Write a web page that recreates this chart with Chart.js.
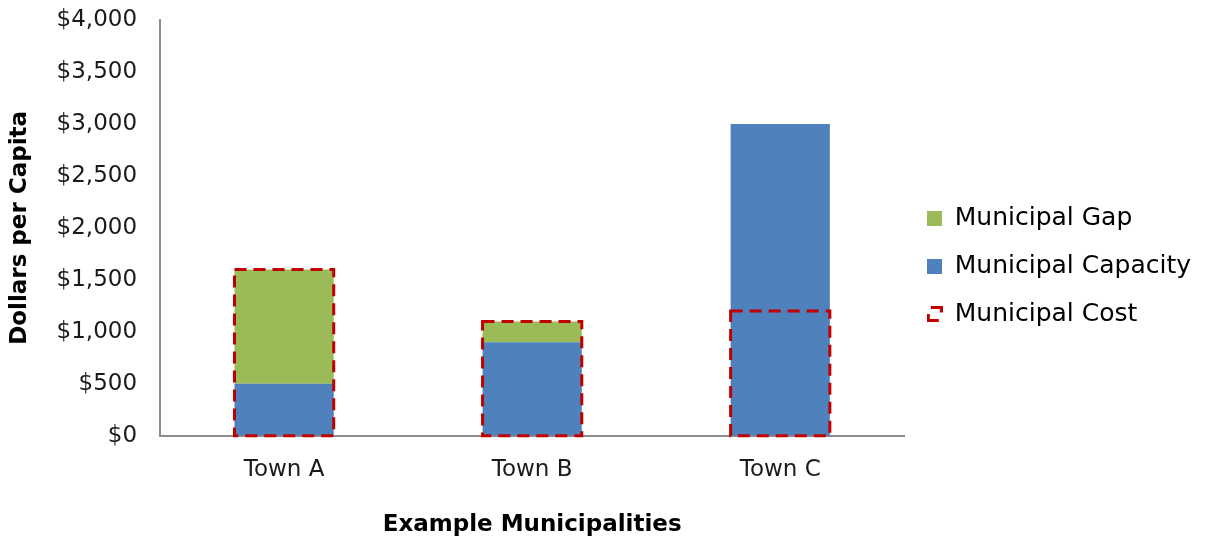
<!DOCTYPE html>
<html>
<head>
<meta charset="utf-8">
<script src="https://cdn.jsdelivr.net/npm/chart.js@4"></script>
<style>
  html, body { margin: 0; padding: 0; background: #fff; }
  #wrap { width: 1217px; height: 539px; }
</style>
</head>
<body>
<div id="wrap"><canvas id="c" width="1217" height="539"></canvas></div>
<script>
const categories = ['Town A', 'Town B', 'Town C'];
const capacityValues = [500, 900, 3000];
const gapValues = [1100, 200, 0];
const costValues = [1600, 1100, 1200];
const yMin = 0, yMax = 4000, yStep = 500;
const seriesNames = ['Municipal Gap', 'Municipal Capacity', 'Municipal Cost'];

const GREEN = '#9BBB59', BLUE = '#4F81BD', RED = '#C00000';
const FONT = "'DejaVu Sans', sans-serif";

function makeSquare(color) {
  const c = document.createElement('canvas');
  c.width = 15; c.height = 15;
  const g = c.getContext('2d');
  g.fillStyle = color; g.fillRect(0, 0, 15, 15);
  return c;
}
function makeCostIcon() {
  const c = document.createElement('canvas');
  c.width = 16; c.height = 16;
  const g = c.getContext('2d');
  g.strokeStyle = RED; g.lineWidth = 3; g.lineCap = 'butt';
  g.beginPath();
  g.moveTo(4, 1.5); g.lineTo(14.5, 1.5); g.lineTo(14.5, 6.5);
  g.moveTo(1.5, 8); g.lineTo(1.5, 14.5); g.lineTo(12, 14.5);
  g.stroke();
  return c;
}
const icons = [makeSquare(GREEN), makeSquare(BLUE), makeCostIcon()];

const dashedCost = {
  id: 'dashedCost',
  afterDatasetsDraw(chart) {
    const idx = chart.data.datasets.findIndex(d => d.label === seriesNames[2]);
    const meta = chart.getDatasetMeta(idx);
    const ctx = chart.ctx;
    ctx.save();
    ctx.strokeStyle = RED;
    ctx.lineWidth = 3;
    ctx.setLineDash([12, 7]);
    meta.data.forEach(el => {
      const p = el.getProps(['x', 'y', 'base', 'width'], true);
      ctx.strokeRect(p.x - p.width / 2, p.y, p.width, p.base - p.y);
    });
    ctx.restore();
  }
};

new Chart(document.getElementById('c'), {
  type: 'bar',
  data: {
    labels: categories,
    datasets: [
      { label: seriesNames[1], data: capacityValues, backgroundColor: BLUE, stack: 'main' },
      { label: seriesNames[0], data: gapValues, backgroundColor: GREEN, stack: 'main' },
      { label: seriesNames[2], data: costValues, backgroundColor: 'rgba(0,0,0,0)', borderWidth: 0, stack: 'cost' }
    ]
  },
  options: {
    responsive: false,
    animation: false,
    devicePixelRatio: 1,
    datasets: { bar: { grouped: false, barPercentage: 0.4, categoryPercentage: 1 } },
    layout: { padding: { left: 0, top: -7, right: 16, bottom: 0 } },
    plugins: {
      tooltip: { enabled: false },
      legend: {
        position: 'right',
        align: 'center',
        labels: {
          color: '#1a1a1a',
          font: { family: FONT, size: 25 },
          usePointStyle: true,
          boxWidth: 15,
          boxHeight: 15,
          padding: 23,
          generateLabels(chart) {
            return seriesNames.map((name, i) => ({
              text: name,
              pointStyle: icons[i],
              fillStyle: 'transparent',
              strokeStyle: 'transparent',
              lineWidth: 0,
              hidden: false,
              datasetIndex: chart.data.datasets.findIndex(d => d.label === name)
            }));
          }
        }
      }
    },
    scales: {
      x: {
        stacked: true,
        grid: { display: false, drawTicks: false },
        border: { color: '#8c8c8c', width: 2 },
        ticks: { color: '#1a1a1a', font: { family: FONT, size: 23 }, padding: 20 },
        title: { display: true, text: 'Example Municipalities', color: '#000', font: { family: FONT, size: 23, weight: 'bold' }, padding: { top: 8, bottom: 0 } }
      },
      y: {
        stacked: true,
        min: yMin, max: yMax,
        grid: { display: false, drawTicks: false },
        border: { color: '#8c8c8c', width: 2 },
        afterFit(scale) { scale.paddingTop = 20; scale.paddingBottom = 0; },
        ticks: {
          stepSize: yStep,
          color: '#1a1a1a',
          font: { family: FONT, size: 23 },
          padding: 23,
          callback: v => '$' + Number(v).toLocaleString('en-US')
        },
        title: { display: true, text: 'Dollars per Capita', color: '#000', font: { family: FONT, size: 23, weight: 'bold' }, padding: { top: 6, bottom: 0 } }
      }
    }
  },
  plugins: [dashedCost]
});
</script>
</body>
</html>
